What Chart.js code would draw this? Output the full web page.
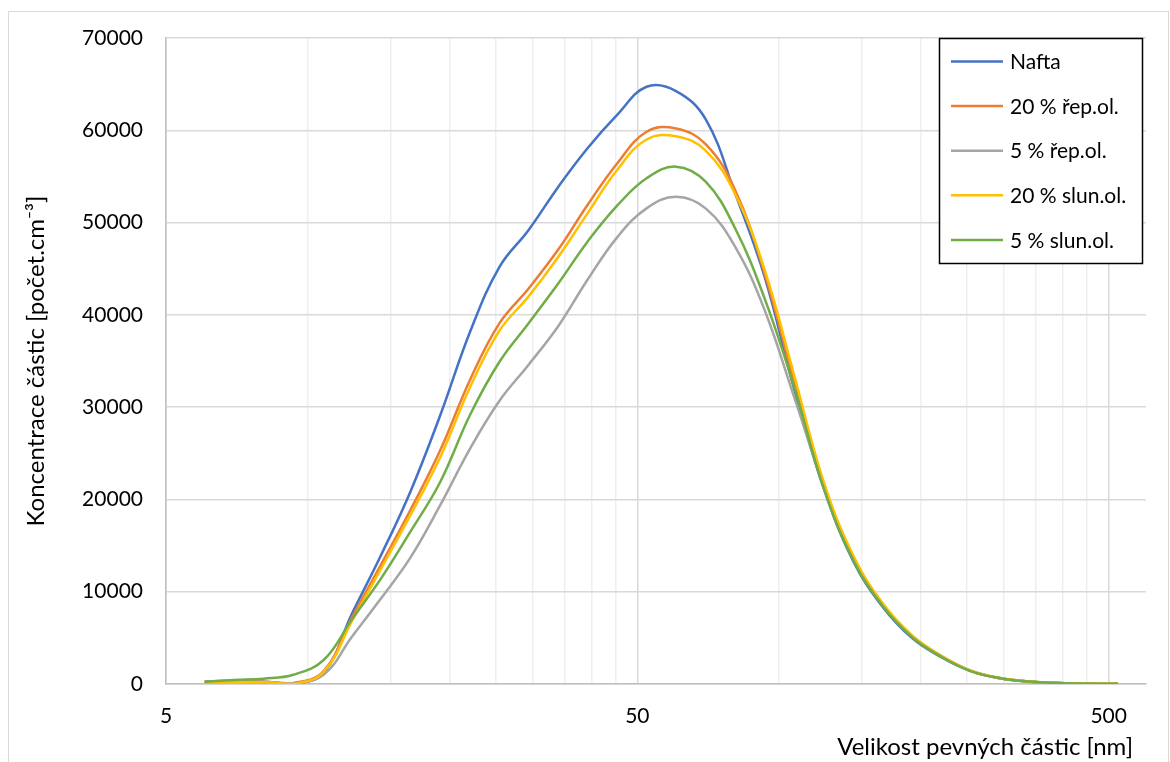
<!DOCTYPE html>
<html>
<head>
<meta charset="utf-8">
<script src="https://cdn.jsdelivr.net/npm/chart.js@4.4.1/dist/chart.umd.min.js"></script>
<style>
  html, body { margin: 0; padding: 0; background: #fff; }
  #wrap { width: 1170px; height: 762px; }
</style>
</head>
<body>
<div id="wrap"><canvas id="psd-chart" width="1170" height="762"></canvas></div>
<script>
// EEPS channel midpoints [nm]
const SIZES = [6.04, 6.98, 8.06, 9.31, 10.8, 12.4, 14.3, 16.5, 19.1, 22.1, 25.5, 29.4,
    34.0, 39.2, 45.3, 52.3, 60.4, 69.8, 80.6, 93.1, 107.5, 124.1, 143.3, 165.5,
    191.1, 220.7, 254.8, 294.3, 339.8, 392.4, 453.2, 523.3];

const NAFTA = [250, 350, 250, 50, 1200, 7600, 13980, 20840, 29150, 38200, 45200, 49200,
    53890, 58050, 61660, 64720, 64250, 61200, 53170, 44140, 32000, 21300, 13400, 8400,
    5000, 2900, 1400, 620, 250, 100, 50, 30];
const REP20 = [250, 300, 250, 100, 1400, 7200, 12970, 18850, 25360, 33000, 39100, 42850,
    47100, 51900, 56400, 59840, 60200, 58500, 53530, 44500, 32800, 21700, 13700, 8600,
    5150, 2950, 1400, 620, 250, 110, 50, 30];
const REP5 = [200, 250, 200, 100, 1000, 5130, 9290, 13690, 19400, 25540, 30700, 34600,
    38800, 43800, 48400, 51540, 52800, 51540, 47390, 40530, 31130, 21600, 13800, 8700,
    5250, 3050, 1450, 650, 270, 120, 50, 30];
const SLUN20 = [200, 250, 200, 0, 1300, 6800, 12500, 18300, 24600, 32200, 38300, 42000,
    46300, 51000, 55700, 59000, 59350, 57800, 53100, 44900, 33500, 22000, 14000, 8800,
    5300, 3050, 1450, 650, 270, 120, 60, 30];
const SLUN5 = [250, 430, 580, 1000, 2600, 7000, 11450, 16510, 21920, 29200, 34920, 39090,
    43420, 47930, 51830, 54800, 56060, 54430, 49380, 41790, 32220, 21300, 13500, 8500,
    5100, 2950, 1400, 630, 260, 110, 50, 30];

const SERIES_NAMES = ["Nafta", "20 % řep.ol.", "5 % řep.ol.", "20 % slun.ol.", "5 % slun.ol."];
const SERIES_COLORS = ["#4472C4", "#ED7D31", "#A5A5A5", "#FFC000", "#70AD47"];
const SERIES_DATA = [NAFTA, REP20, REP5, SLUN20, SLUN5];

// log axis: gridlines at every multiple of the decade start, labels only at 5/50/500
const X_TICKS = [5, 10, 15, 20, 25, 30, 35, 40, 45, 50, 100, 150, 200, 250, 300, 350, 400, 450, 500];
const X_LABELS = [5, 50, 500];
const X_MIN = 5, X_MAX = 600;
const Y_MIN = 0, Y_MAX = 70000, Y_STEP = 10000;

const X_TITLE = "Velikost pevných částic [nm]";
const Y_TITLE = "Koncentrace částic [počet.cm⁻³]";

const FONT = "Lato";

const frame = {
    id: "frame",
    beforeDraw(chart) {
        const ctx = chart.ctx;
        ctx.save();
        ctx.fillStyle = "#fff";
        ctx.fillRect(0, 0, chart.width, chart.height);
        ctx.strokeStyle = "#d9d9d9";
        ctx.lineWidth = 1;
        ctx.strokeRect(8.5, 11.5, chart.width - 10, chart.height + 20);
        ctx.restore();
    },
    afterDraw(chart) {
        const ctx = chart.ctx;
        const area = chart.chartArea;
        ctx.save();
        // x axis title, right aligned like Excel
        ctx.font = `24px ${FONT}`;
        ctx.fillStyle = "#000";
        ctx.textAlign = "right";
        ctx.textBaseline = "alphabetic";
        ctx.fillText(X_TITLE, area.right - 13, 755);

        // legend box inside the plot, top right
        const bx = area.right - 207, by = area.top, bw = 203, bh = 225;
        ctx.font = `21px ${FONT}`;
        ctx.fillStyle = "#fff";
        ctx.fillRect(bx, by, bw, bh);
        ctx.strokeStyle = "#000";
        ctx.lineWidth = 1.5;
        ctx.strokeRect(bx + 0.5, by + 0.5, bw, bh);
        ctx.textAlign = "left";
        ctx.textBaseline = "middle";
        SERIES_NAMES.forEach((name, i) => {
            const y = by + 23.5 + i * 44.6;
            ctx.strokeStyle = SERIES_COLORS[i];
            ctx.lineWidth = 2.5;
            ctx.beginPath();
            ctx.moveTo(bx + 12, y);
            ctx.lineTo(bx + 64, y);
            ctx.stroke();
            ctx.fillStyle = "#000";
            ctx.fillText(name, bx + 71, y + 1);
        });
        ctx.restore();
    },
};

function renderChart() {
    const canvas = document.getElementById("psd-chart");
    Chart.defaults.font.family = FONT;
    Chart.defaults.font.size = 21;
    Chart.defaults.color = "#000";

    new Chart(canvas, {
        type: "line",
        data: {
            datasets: SERIES_DATA.map((vals, i) => ({
                label: SERIES_NAMES[i],
                data: vals.map((v, j) => ({ x: SIZES[j], y: v })),
                borderColor: SERIES_COLORS[i],
                backgroundColor: SERIES_COLORS[i],
                borderWidth: 2.5,
                pointRadius: 0,
                tension: 0.4,
                fill: false,
                order: SERIES_NAMES.length - i,
            })),
        },
        options: {
            responsive: false,
            devicePixelRatio: 1,
            animation: false,
            layout: { padding: { top: 38, right: 24, left: 0, bottom: 0 } },
            plugins: {
                legend: { display: false },
                tooltip: { enabled: false },
            },
            scales: {
                x: {
                    type: "logarithmic",
                    min: X_MIN,
                    max: X_MAX,
                    afterBuildTicks: (scale) => {
                        scale.ticks = X_TICKS.map(v => ({ value: v }));
                    },
                    afterFit: (scale) => { scale.height = 78; },
                    ticks: {
                        autoSkip: false,
                        maxRotation: 0,
                        minRotation: 0,
                        padding: 20,
                        callback: (v) => X_LABELS.includes(v) ? String(v) : "",
                    },
                    grid: {
                        drawTicks: false,
                        color: (ctx) => ctx.tick && X_LABELS.includes(ctx.tick.value) ? "#d9d9d9" : "#efefef",
                        lineWidth: 1.5,
                    },
                    border: { color: "#bfbfbf", width: 1.5 },
                },
                y: {
                    min: Y_MIN,
                    max: Y_MAX,
                    afterFit: (scale) => { scale.width = 166; },
                    ticks: {
                        stepSize: Y_STEP,
                        padding: 23,
                        callback: (v) => String(v),
                    },
                    grid: { drawTicks: false, color: "#d9d9d9", lineWidth: 1.5 },
                    border: { color: "#bfbfbf", width: 1.5 },
                    title: {
                        display: true,
                        text: Y_TITLE,
                        font: { size: 24 },
                        padding: { top: 22, bottom: 0 },
                    },
                },
            },
        },
        plugins: [frame],
    });
}

if (document.fonts && document.fonts.load) {
    document.fonts.load(`21px ${FONT}`).then(renderChart, renderChart);
} else {
    renderChart();
}
</script>
</body>
</html>
